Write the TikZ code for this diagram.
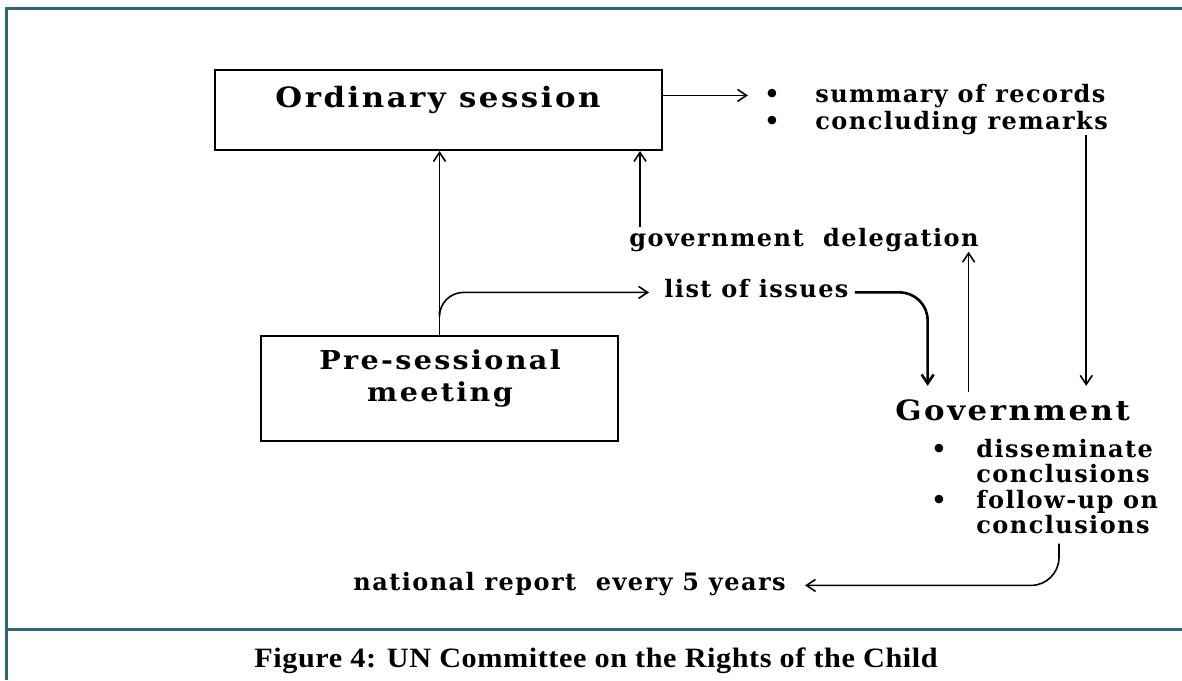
\documentclass[tikz,border=0pt]{standalone}
\usepackage{fontspec}
\setmainfont{Liberation Serif}
\newfontfamily\capfont[FakeStretch=1.08,LetterSpace=2]{Liberation Serif}
\newfontfamily\diagfont[LetterSpace=6]{DejaVu Serif}
\newfontfamily\bigfont[LetterSpace=9,FakeStretch=1.1]{DejaVu Serif}
\usetikzlibrary{arrows.meta}

\definecolor{frameteal}{RGB}{47,102,117}

\begin{document}
\begin{tikzpicture}[x=0.5pt,y=-0.5pt,>={Straight Barb[length=4.5pt,width=6pt]},
  box/.style={draw,line width=1pt,inner sep=0pt},
  lbl/.style={inner sep=0pt,font=\diagfont\bfseries\fontsize{12}{14}\selectfont},
  big/.style={inner sep=0pt,font=\bigfont\bfseries\fontsize{14}{16}\selectfont},
  dot/.style={inner sep=0pt,font=\diagfont\bfseries\fontsize{12}{14}\selectfont},
  arr/.style={->,line width=0.8pt}]
\useasboundingbox (0,0) rectangle (1182,680);
% frame and caption
\draw[frameteal,line width=1.5pt] (1182,8) -- (6,8) -- (6,680);
\draw[frameteal,line width=1.5pt] (6,629) -- (1182,629);
\node[anchor=base,font=\capfont\bfseries\fontsize{14}{17}\selectfont] (caption) at (596,667) {Figure 4: UN Committee on the Rights of the Child};

% the two meetings
\node[box,minimum width=223.5pt,minimum height=40pt] (ord) at (438.5,110) {};
\node[big,anchor=base] (ordtxt) at (438,107) {Ordinary session};
\node[box,minimum width=178.5pt,minimum height=52.5pt] (pre) at (439.5,388.5) {};
\node[big,align=center,font=\bigfont\bfseries\fontsize{13}{16}\selectfont] (pretxt) at (440,379) {Pre-sessional\\meeting};

% outcomes
\node[dot,anchor=base] (b1) at (772,102) {•};
\node[lbl,anchor=base west] (sum) at (815,102) {summary of records};
\node[dot,anchor=base] (b2) at (772,129) {•};
\node[lbl,anchor=base west] (rem) at (815,129) {concluding remarks};

\node[lbl,anchor=base west] (del) at (629,246) {government\ \ delegation};
\node[lbl,anchor=base west,inner xsep=3pt] (iss) at (658,297) {list of issues};

% government
\node[big,anchor=base west,inner ysep=6.5pt] (gov) at (895,420) {Government};
\node[dot,anchor=base] (b3) at (939,457) {•};
\node[lbl,anchor=base west] (dis) at (976,457) {disseminate};
\node[lbl,anchor=base west] (dis2) at (976,482) {conclusions};
\node[dot,anchor=base] (b4) at (939,508) {•};
\node[lbl,anchor=base west] (fol) at (976,508) {follow-up on};
\node[lbl,anchor=base west] (fol2) at (976,533) {conclusions};

\node[lbl,anchor=base west] (nat) at (353,590) {national report\ \ every 5 years};

% connectors
\draw[arr] (ord.east |- b1) -- ([xshift=-8pt]b1.west);
\draw[arr] ([xshift=-11pt]rem.south east) -- ([xshift=-11pt]rem.south east |- gov.north);
\draw[arr] (pre.north) -- (pre.north |- ord.south);
\draw[arr,rounded corners=12pt] ([yshift=12pt]pre.north) |- ([xshift=-4.5pt]iss.mid west);
\draw[arr,line width=1.3pt,rounded corners=14pt] (iss.mid east) -| ([xshift=-42.5pt]gov.north);
\draw[arr] ([xshift=5.5pt]del.north west) -- ([xshift=5.5pt]del.north west |- ord.south);
\draw[arr] ([xshift=-22pt,yshift=-3pt]gov.north) -- ([xshift=-22pt]gov.north |- del.south);
\draw[arr,rounded corners=14pt] ([xshift=41.5pt,yshift=-5pt]fol2.south west) |- ([xshift=9.5pt]nat.mid east);
\end{tikzpicture}
\end{document}
